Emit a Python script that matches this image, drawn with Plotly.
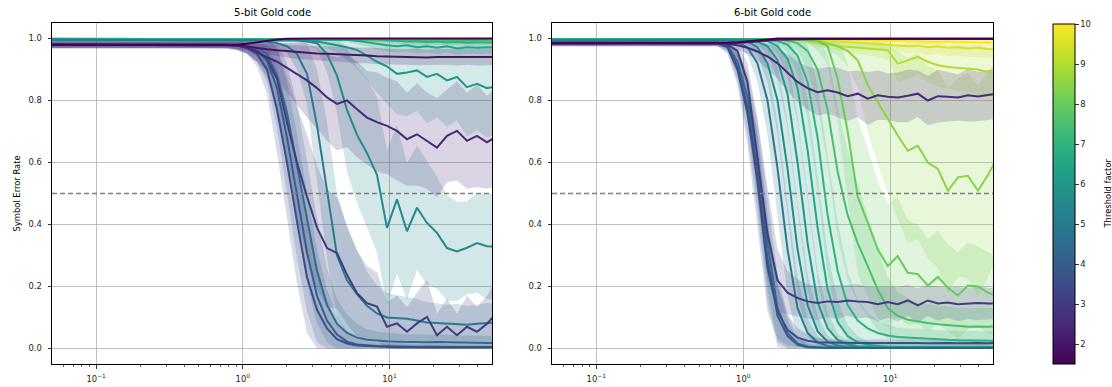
import re
import math
import plotly.graph_objects as go
from plotly.colors import sample_colorscale

# ---------------- data ----------------
# x grid (SNR-like axis, log scale); first point is left of the visible range
X = [0.04, 0.487, 0.570, 0.667, 0.780, 0.913, 1.068, 1.249, 1.462, 1.711, 2.001, 2.341,
     2.739, 3.204, 3.750, 4.386, 5.132, 6.004, 7.025, 8.220, 9.616, 11.25, 13.16, 15.40,
     18.02, 21.08, 24.67, 28.86, 33.77, 39.51, 46.22, 54.08]

THRESHOLDS = [1.5, 2.0, 2.5, 3.0, 3.5, 4.0, 4.5, 5.0, 5.5, 6.0, 6.5, 7.0, 7.5, 8.0, 8.5, 9.0, 9.5, 10.0]

# ---- 5-bit Gold code: mean symbol error rate per threshold ----
left_t1_5 = [0.98, 0.98, 0.98, 0.98, 0.98, 0.98, 0.983, 0.988, 0.993, 0.997, 0.999, 1.0, 1.0, 1.0, 1.0, 1.0, 1.0, 1.0, 1.0, 1.0, 1.0, 1.0, 1.0, 1.0, 1.0, 1.0, 1.0, 1.0, 1.0, 1.0, 1.0, 1.0]
left_t2_0 = [0.98, 0.98, 0.98, 0.98, 0.98, 0.978, 0.974, 0.969, 0.965, 0.962, 0.959, 0.956, 0.954, 0.952, 0.951, 0.95, 0.948, 0.946, 0.945, 0.943, 0.942, 0.941, 0.94, 0.941, 0.939, 0.94, 0.94, 0.939, 0.94, 0.94, 0.939, 0.94]
left_t2_5 = [0.98, 0.98, 0.98, 0.98, 0.98, 0.977, 0.97, 0.955, 0.94, 0.925, 0.905, 0.886, 0.865, 0.84, 0.81, 0.789, 0.80, 0.772, 0.745, 0.73, 0.718, 0.702, 0.675, 0.691, 0.67, 0.648, 0.686, 0.702, 0.67, 0.686, 0.665, 0.685]
left_t3_0 = [0.98, 0.98, 0.98, 0.98, 0.98, 0.978, 0.972, 0.96, 0.935, 0.87, 0.73, 0.6, 0.49, 0.39, 0.324, 0.308, 0.238, 0.178, 0.146, 0.135, 0.07, 0.081, 0.054, 0.081, 0.102, 0.043, 0.07, 0.043, 0.07, 0.054, 0.08, 0.115]
left_t3_5 = [0.98, 0.98, 0.98, 0.98, 0.98, 0.977, 0.97, 0.95, 0.9, 0.77, 0.6, 0.41, 0.23, 0.125, 0.065, 0.03, 0.016, 0.01, 0.008, 0.006, 0.005, 0.004, 0.004, 0.003, 0.004, 0.003, 0.003, 0.003, 0.003, 0.003, 0.003, 0.003]
left_t4_0 = [0.98, 0.98, 0.98, 0.98, 0.98, 0.978, 0.972, 0.96, 0.93, 0.84, 0.68, 0.49, 0.31, 0.17, 0.09, 0.045, 0.022, 0.013, 0.01, 0.008, 0.007, 0.006, 0.006, 0.005, 0.006, 0.005, 0.005, 0.005, 0.005, 0.005, 0.005, 0.005]
left_t4_5 = [0.98, 0.98, 0.98, 0.98, 0.98, 0.979, 0.975, 0.97, 0.95, 0.88, 0.76, 0.59, 0.41, 0.25, 0.14, 0.08, 0.05, 0.035, 0.028, 0.025, 0.023, 0.022, 0.021, 0.021, 0.02, 0.021, 0.02, 0.02, 0.019, 0.019, 0.018, 0.018]
left_t5_0 = [0.996, 0.996, 0.996, 0.996, 0.996, 0.996, 0.996, 0.994, 0.99, 0.985, 0.975, 0.95, 0.886, 0.72, 0.51, 0.3, 0.22, 0.175, 0.138, 0.113, 0.1, 0.097, 0.096, 0.09, 0.084, 0.082, 0.08, 0.079, 0.077, 0.08, 0.082, 0.084]
left_t5_5 = [0.996, 0.996, 0.996, 0.996, 0.996, 0.996, 0.996, 0.996, 0.996, 0.996, 0.996, 0.994, 0.99, 0.985, 0.95, 0.88, 0.77, 0.69, 0.63, 0.56, 0.389, 0.481, 0.378, 0.454, 0.405, 0.373, 0.324, 0.313, 0.325, 0.34, 0.33, 0.328]
left_t6_0 = [0.996, 0.996, 0.996, 0.996, 0.996, 0.996, 0.996, 0.996, 0.996, 0.996, 0.996, 0.996, 0.994, 0.99, 0.985, 0.978, 0.972, 0.963, 0.945, 0.925, 0.91, 0.886, 0.89, 0.897, 0.876, 0.886, 0.865, 0.876, 0.843, 0.854, 0.84, 0.846]
left_t6_5 = [0.997, 0.997, 0.997, 0.997, 0.997, 0.997, 0.997, 0.997, 0.997, 0.997, 0.997, 0.997, 0.997, 0.997, 0.997, 0.997, 0.996, 0.993, 0.988, 0.982, 0.978, 0.975, 0.978, 0.972, 0.975, 0.97, 0.975, 0.968, 0.972, 0.97, 0.972, 0.97]
left_t7_0 = [0.998, 0.998, 0.998, 0.998, 0.998, 0.998, 0.998, 0.998, 0.998, 0.998, 0.998, 0.998, 0.998, 0.998, 0.998, 0.998, 0.998, 0.998, 0.998, 0.998, 0.995, 0.992, 0.99, 0.991, 0.988, 0.99, 0.987, 0.989, 0.986, 0.988, 0.987, 0.986]
left_t7_5 = [0.999, 0.999, 0.999, 0.999, 0.999, 0.999, 0.999, 0.999, 0.999, 0.999, 0.999, 0.999, 0.999, 0.999, 0.999, 0.999, 0.999, 0.999, 0.999, 0.999, 0.999, 0.997, 0.996, 0.997, 0.995, 0.996, 0.995, 0.996, 0.995, 0.995, 0.996, 0.995]
left_t8_0 = [0.998, 0.998, 0.998, 0.998, 0.998, 0.998, 0.998, 0.998, 0.998, 0.998, 0.998, 0.997, 0.997, 0.996, 0.996, 0.995, 0.995, 0.994, 0.994, 0.993, 0.993, 0.992, 0.993, 0.992, 0.991, 0.992, 0.991, 0.992, 0.991, 0.99, 0.991, 0.99]
left_t8_5 = [0.998, 0.998, 0.998, 0.998, 0.998, 0.998, 0.998, 0.998, 0.998, 0.998, 0.998, 0.998, 0.997, 0.997, 0.996, 0.996, 0.996, 0.995, 0.995, 0.995, 0.994, 0.995, 0.994, 0.994, 0.995, 0.994, 0.993, 0.994, 0.994, 0.993, 0.994, 0.993]
left_t9_0 = [0.999, 0.999, 0.999, 0.999, 0.999, 0.999, 0.999, 0.999, 0.999, 0.999, 0.999, 0.999, 0.999, 0.999, 0.999, 0.999, 0.998, 0.998, 0.997, 0.997, 0.997, 0.996, 0.997, 0.996, 0.996, 0.997, 0.996, 0.996, 0.995, 0.996, 0.996, 0.995]
left_t9_5 = [0.999, 0.999, 0.999, 0.999, 0.999, 0.999, 0.999, 0.999, 0.999, 0.999, 0.999, 0.999, 0.999, 0.999, 0.999, 0.999, 0.999, 0.999, 0.999, 0.999, 0.999, 0.998, 0.998, 0.997, 0.998, 0.997, 0.997, 0.998, 0.997, 0.997, 0.997, 0.996]
left_t10_0 = [0.999, 0.999, 0.999, 0.999, 0.999, 0.999, 0.999, 0.999, 0.999, 0.999, 0.999, 0.999, 0.999, 0.999, 0.999, 0.999, 0.999, 0.999, 0.999, 0.999, 0.999, 0.998, 0.997, 0.998, 0.997, 0.997, 0.996, 0.997, 0.996, 0.997, 0.996, 0.996]

# ---- 5-bit Gold code: spread (std) per threshold ----
left_sd1_5 = [0.003, 0.003, 0.003, 0.003, 0.003, 0.003, 0.003, 0.003, 0.003, 0.002, 0.002, 0.002, 0.002, 0.002, 0.002, 0.002, 0.002, 0.002, 0.002, 0.002, 0.002, 0.002, 0.002, 0.002, 0.002, 0.002, 0.002, 0.002, 0.002, 0.002, 0.002, 0.002]
left_sd2_0 = [0.01, 0.01, 0.01, 0.01, 0.01, 0.011, 0.012, 0.014, 0.016, 0.018, 0.02, 0.021, 0.022, 0.023, 0.024, 0.025, 0.025, 0.026, 0.025, 0.026, 0.025, 0.026, 0.025, 0.027, 0.025, 0.026, 0.025, 0.026, 0.025, 0.027, 0.026, 0.025]
left_sd2_5 = [0.012, 0.012, 0.012, 0.012, 0.013, 0.015, 0.02, 0.03, 0.045, 0.06, 0.08, 0.1, 0.12, 0.13, 0.14, 0.15, 0.15, 0.155, 0.15, 0.16, 0.155, 0.16, 0.15, 0.165, 0.155, 0.16, 0.15, 0.16, 0.155, 0.165, 0.15, 0.16]
left_sd3_0 = [0.012, 0.012, 0.012, 0.012, 0.013, 0.015, 0.02, 0.035, 0.06, 0.1, 0.15, 0.18, 0.2, 0.2, 0.19, 0.18, 0.16, 0.14, 0.12, 0.11, 0.08, 0.09, 0.08, 0.1, 0.12, 0.07, 0.09, 0.07, 0.1, 0.08, 0.09, 0.11]
left_sd3_5 = [0.01, 0.01, 0.01, 0.01, 0.011, 0.013, 0.02, 0.04, 0.08, 0.14, 0.18, 0.2, 0.18, 0.14, 0.09, 0.05, 0.03, 0.02, 0.015, 0.012, 0.01, 0.009, 0.008, 0.008, 0.008, 0.007, 0.007, 0.007, 0.007, 0.006, 0.006, 0.006]
left_sd4_0 = [0.01, 0.01, 0.01, 0.01, 0.011, 0.012, 0.02, 0.035, 0.07, 0.13, 0.18, 0.2, 0.19, 0.15, 0.1, 0.06, 0.035, 0.025, 0.02, 0.015, 0.012, 0.011, 0.01, 0.01, 0.01, 0.01, 0.01, 0.01, 0.009, 0.009, 0.009, 0.009]
left_sd4_5 = [0.01, 0.01, 0.01, 0.01, 0.01, 0.011, 0.015, 0.03, 0.06, 0.11, 0.16, 0.2, 0.2, 0.17, 0.12, 0.08, 0.06, 0.045, 0.035, 0.03, 0.028, 0.026, 0.025, 0.025, 0.024, 0.025, 0.024, 0.024, 0.023, 0.023, 0.022, 0.022]
left_sd5_0 = [0.005, 0.005, 0.005, 0.005, 0.005, 0.005, 0.005, 0.006, 0.008, 0.012, 0.02, 0.05, 0.1, 0.18, 0.22, 0.2, 0.17, 0.14, 0.11, 0.09, 0.08, 0.075, 0.07, 0.07, 0.065, 0.065, 0.06, 0.065, 0.06, 0.06, 0.065, 0.06]
left_sd5_5 = [0.005, 0.005, 0.005, 0.005, 0.005, 0.005, 0.005, 0.005, 0.005, 0.005, 0.005, 0.006, 0.01, 0.02, 0.06, 0.12, 0.2, 0.22, 0.24, 0.25, 0.25, 0.24, 0.22, 0.2, 0.2, 0.18, 0.17, 0.16, 0.15, 0.16, 0.17, 0.17]
left_sd6_0 = [0.005, 0.005, 0.005, 0.005, 0.005, 0.005, 0.005, 0.005, 0.005, 0.005, 0.005, 0.005, 0.007, 0.01, 0.015, 0.025, 0.04, 0.06, 0.08, 0.1, 0.12, 0.13, 0.14, 0.13, 0.15, 0.14, 0.15, 0.14, 0.16, 0.15, 0.16, 0.15]
left_sd6_5 = [0.004, 0.004, 0.004, 0.004, 0.004, 0.004, 0.004, 0.004, 0.004, 0.004, 0.004, 0.004, 0.004, 0.004, 0.004, 0.004, 0.006, 0.01, 0.014, 0.018, 0.02, 0.02, 0.02, 0.02, 0.02, 0.02, 0.02, 0.02, 0.02, 0.02, 0.02, 0.02]
left_sd7_0 = [0.003, 0.003, 0.003, 0.003, 0.003, 0.003, 0.003, 0.003, 0.003, 0.003, 0.003, 0.003, 0.003, 0.003, 0.003, 0.003, 0.003, 0.003, 0.003, 0.003, 0.006, 0.008, 0.01, 0.01, 0.01, 0.01, 0.01, 0.01, 0.01, 0.01, 0.01, 0.01]
left_sd_small = [0.003, 0.003, 0.003, 0.003, 0.003, 0.003, 0.003, 0.003, 0.003, 0.003, 0.003, 0.003, 0.003, 0.003, 0.003, 0.003, 0.003, 0.003, 0.003, 0.003, 0.003, 0.003, 0.003, 0.003, 0.003, 0.003, 0.003, 0.003, 0.003, 0.003, 0.003, 0.003]

# ---- 6-bit Gold code: mean symbol error rate per threshold ----
right_t1_5 = [0.985, 0.985, 0.985, 0.985, 0.986, 0.988, 0.991, 0.995, 0.998, 1.0, 1.0, 1.0, 1.0, 1.0, 1.0, 1.0, 1.0, 1.0, 1.0, 1.0, 1.0, 1.0, 1.0, 1.0, 1.0, 1.0, 1.0, 1.0, 1.0, 1.0, 1.0, 1.0]
right_t2_0 = [0.985, 0.985, 0.985, 0.985, 0.985, 0.986, 0.988, 0.991, 0.994, 0.996, 0.997, 0.998, 0.998, 0.998, 0.998, 0.998, 0.998, 0.998, 0.998, 0.998, 0.998, 0.998, 0.998, 0.998, 0.998, 0.998, 0.998, 0.998, 0.998, 0.998, 0.998, 0.998]
right_t2_5 = [0.985, 0.985, 0.985, 0.985, 0.983, 0.978, 0.97, 0.958, 0.942, 0.92, 0.89, 0.86, 0.84, 0.827, 0.833, 0.826, 0.814, 0.822, 0.806, 0.817, 0.812, 0.81, 0.815, 0.822, 0.80, 0.814, 0.812, 0.81, 0.817, 0.813, 0.818, 0.822]
right_t3_0 = [0.985, 0.985, 0.985, 0.985, 0.98, 0.96, 0.86, 0.62, 0.37, 0.22, 0.18, 0.163, 0.152, 0.147, 0.152, 0.15, 0.155, 0.152, 0.15, 0.143, 0.15, 0.143, 0.155, 0.139, 0.155, 0.145, 0.148, 0.143, 0.145, 0.147, 0.145, 0.146]
right_t3_5 = [0.985, 0.985, 0.985, 0.985, 0.972, 0.9, 0.76, 0.54, 0.26, 0.12, 0.06, 0.035, 0.025, 0.02, 0.019, 0.018, 0.019, 0.018, 0.018, 0.019, 0.018, 0.018, 0.019, 0.018, 0.017, 0.018, 0.018, 0.017, 0.018, 0.018, 0.017, 0.018]
right_t4_0 = [0.986, 0.986, 0.986, 0.986, 0.975, 0.91, 0.78, 0.57, 0.29, 0.105, 0.04, 0.012, 0.004, 0.002, 0.002, 0.002, 0.002, 0.002, 0.002, 0.002, 0.002, 0.002, 0.002, 0.002, 0.002, 0.002, 0.002, 0.002, 0.002, 0.002, 0.002, 0.002]
right_t4_5 = [0.988, 0.988, 0.988, 0.988, 0.978, 0.925, 0.81, 0.61, 0.34, 0.13, 0.05, 0.016, 0.006, 0.003, 0.002, 0.002, 0.002, 0.002, 0.002, 0.002, 0.002, 0.002, 0.002, 0.002, 0.002, 0.002, 0.002, 0.002, 0.002, 0.002, 0.002, 0.002]
right_t5_0 = [0.993, 0.993, 0.993, 0.993, 0.993, 0.988, 0.972, 0.92, 0.8, 0.58, 0.32, 0.13, 0.05, 0.02, 0.008, 0.004, 0.002, 0.002, 0.002, 0.002, 0.002, 0.002, 0.002, 0.002, 0.002, 0.002, 0.002, 0.002, 0.002, 0.002, 0.002, 0.002]
right_t5_5 = [0.995, 0.995, 0.995, 0.995, 0.995, 0.995, 0.99, 0.972, 0.92, 0.8, 0.58, 0.32, 0.14, 0.055, 0.022, 0.01, 0.005, 0.003, 0.003, 0.002, 0.002, 0.002, 0.002, 0.002, 0.002, 0.002, 0.002, 0.002, 0.002, 0.002, 0.002, 0.002]
right_t6_0 = [0.996, 0.996, 0.996, 0.996, 0.996, 0.996, 0.996, 0.99, 0.975, 0.93, 0.82, 0.6, 0.34, 0.15, 0.065, 0.028, 0.013, 0.007, 0.004, 0.003, 0.003, 0.003, 0.003, 0.003, 0.003, 0.003, 0.003, 0.003, 0.003, 0.003, 0.003, 0.003]
right_t6_5 = [0.997, 0.997, 0.997, 0.997, 0.997, 0.997, 0.997, 0.997, 0.992, 0.975, 0.935, 0.84, 0.64, 0.39, 0.19, 0.085, 0.04, 0.02, 0.012, 0.008, 0.006, 0.005, 0.005, 0.005, 0.005, 0.005, 0.005, 0.005, 0.005, 0.005, 0.005, 0.005]
right_t7_0 = [0.997, 0.997, 0.997, 0.997, 0.997, 0.997, 0.997, 0.997, 0.997, 0.992, 0.98, 0.945, 0.86, 0.68, 0.43, 0.25, 0.14, 0.09, 0.065, 0.05, 0.042, 0.037, 0.035, 0.033, 0.03, 0.029, 0.028, 0.027, 0.026, 0.026, 0.025, 0.025]
right_t7_5 = [0.998, 0.998, 0.998, 0.998, 0.998, 0.998, 0.998, 0.998, 0.998, 0.998, 0.993, 0.985, 0.96, 0.9, 0.77, 0.57, 0.43, 0.34, 0.266, 0.19, 0.13, 0.105, 0.093, 0.087, 0.082, 0.078, 0.075, 0.072, 0.07, 0.071, 0.07, 0.072]
right_t8_0 = [0.998, 0.998, 0.998, 0.998, 0.998, 0.998, 0.998, 0.998, 0.998, 0.998, 0.998, 0.997, 0.995, 0.992, 0.975, 0.87, 0.7, 0.49, 0.406, 0.32, 0.266, 0.298, 0.244, 0.24, 0.203, 0.231, 0.196, 0.171, 0.203, 0.2, 0.18, 0.168]
right_t8_5 = [0.998, 0.998, 0.998, 0.998, 0.998, 0.998, 0.998, 0.998, 0.998, 0.998, 0.998, 0.997, 0.995, 0.993, 0.985, 0.975, 0.96, 0.93, 0.85, 0.795, 0.74, 0.687, 0.638, 0.654, 0.60, 0.579, 0.509, 0.552, 0.557, 0.509, 0.56, 0.62]
right_t9_0 = [0.998, 0.998, 0.998, 0.998, 0.998, 0.998, 0.998, 0.998, 0.998, 0.998, 0.998, 0.995, 0.99, 0.985, 0.98, 0.976, 0.973, 0.97, 0.967, 0.965, 0.962, 0.919, 0.93, 0.941, 0.925, 0.914, 0.908, 0.905, 0.903, 0.9, 0.892, 0.9]
right_t9_5 = [0.998, 0.998, 0.998, 0.998, 0.998, 0.998, 0.998, 0.998, 0.998, 0.998, 0.998, 0.997, 0.996, 0.995, 0.993, 0.99, 0.988, 0.986, 0.984, 0.982, 0.98, 0.978, 0.975, 0.977, 0.972, 0.974, 0.97, 0.972, 0.968, 0.97, 0.966, 0.965]
right_t10_0 = [0.999, 0.999, 0.999, 0.999, 0.999, 0.999, 0.999, 0.999, 0.999, 0.999, 0.999, 0.999, 0.999, 0.999, 0.999, 0.999, 0.998, 0.997, 0.996, 0.995, 0.994, 0.992, 0.993, 0.99, 0.991, 0.989, 0.99, 0.988, 0.989, 0.987, 0.988, 0.986]

# ---- 6-bit Gold code: spread (std) per threshold ----
right_sd1_5 = [0.003, 0.003, 0.003, 0.003, 0.003, 0.003, 0.003, 0.003, 0.002, 0.002, 0.002, 0.002, 0.002, 0.002, 0.002, 0.002, 0.002, 0.002, 0.002, 0.002, 0.002, 0.002, 0.002, 0.002, 0.002, 0.002, 0.002, 0.002, 0.002, 0.002, 0.002, 0.002]
right_sd2_0 = [0.003, 0.003, 0.003, 0.003, 0.003, 0.003, 0.003, 0.003, 0.003, 0.003, 0.003, 0.003, 0.003, 0.003, 0.003, 0.003, 0.003, 0.003, 0.003, 0.003, 0.003, 0.003, 0.003, 0.003, 0.003, 0.003, 0.003, 0.003, 0.003, 0.003, 0.003, 0.003]
right_sd2_5 = [0.01, 0.01, 0.01, 0.01, 0.012, 0.015, 0.02, 0.03, 0.04, 0.05, 0.06, 0.065, 0.07, 0.075, 0.075, 0.08, 0.08, 0.075, 0.085, 0.08, 0.075, 0.08, 0.085, 0.075, 0.08, 0.085, 0.08, 0.075, 0.085, 0.08, 0.08, 0.08]
right_sd3_0 = [0.01, 0.01, 0.01, 0.01, 0.012, 0.025, 0.06, 0.12, 0.15, 0.1, 0.07, 0.06, 0.055, 0.055, 0.05, 0.055, 0.05, 0.055, 0.05, 0.055, 0.05, 0.055, 0.05, 0.055, 0.05, 0.055, 0.05, 0.055, 0.05, 0.055, 0.05, 0.05]
right_sd3_5 = [0.01, 0.01, 0.01, 0.01, 0.02, 0.05, 0.1, 0.14, 0.14, 0.09, 0.05, 0.03, 0.02, 0.015, 0.012, 0.01, 0.01, 0.01, 0.01, 0.01, 0.01, 0.01, 0.01, 0.01, 0.01, 0.01, 0.01, 0.01, 0.01, 0.01, 0.01, 0.01]
right_sd4_0 = [0.01, 0.01, 0.01, 0.01, 0.018, 0.045, 0.09, 0.13, 0.14, 0.1, 0.05, 0.02, 0.01, 0.005, 0.004, 0.004, 0.004, 0.004, 0.004, 0.004, 0.004, 0.004, 0.004, 0.004, 0.004, 0.004, 0.004, 0.004, 0.004, 0.004, 0.004, 0.004]
right_sd4_5 = [0.01, 0.01, 0.01, 0.01, 0.015, 0.04, 0.08, 0.13, 0.15, 0.11, 0.06, 0.025, 0.012, 0.006, 0.004, 0.004, 0.004, 0.004, 0.004, 0.004, 0.004, 0.004, 0.004, 0.004, 0.004, 0.004, 0.004, 0.004, 0.004, 0.004, 0.004, 0.004]
right_sd5_0 = [0.005, 0.005, 0.005, 0.005, 0.005, 0.01, 0.025, 0.06, 0.11, 0.15, 0.15, 0.1, 0.05, 0.02, 0.01, 0.005, 0.005, 0.005, 0.005, 0.005, 0.005, 0.005, 0.005, 0.005, 0.005, 0.005, 0.005, 0.005, 0.005, 0.005, 0.005, 0.005]
right_sd5_5 = [0.005, 0.005, 0.005, 0.005, 0.005, 0.005, 0.01, 0.025, 0.06, 0.11, 0.15, 0.15, 0.1, 0.05, 0.02, 0.01, 0.005, 0.005, 0.005, 0.005, 0.005, 0.005, 0.005, 0.005, 0.005, 0.005, 0.005, 0.005, 0.005, 0.005, 0.005, 0.005]
right_sd6_0 = [0.005, 0.005, 0.005, 0.005, 0.005, 0.005, 0.005, 0.01, 0.025, 0.06, 0.11, 0.15, 0.15, 0.1, 0.05, 0.02, 0.01, 0.006, 0.006, 0.006, 0.006, 0.006, 0.006, 0.006, 0.006, 0.006, 0.006, 0.006, 0.006, 0.006, 0.006, 0.006]
right_sd6_5 = [0.004, 0.004, 0.004, 0.004, 0.004, 0.004, 0.004, 0.004, 0.01, 0.025, 0.06, 0.11, 0.16, 0.17, 0.12, 0.07, 0.035, 0.02, 0.012, 0.01, 0.01, 0.01, 0.01, 0.01, 0.01, 0.01, 0.01, 0.01, 0.01, 0.01, 0.01, 0.01]
right_sd7_0 = [0.004, 0.004, 0.004, 0.004, 0.004, 0.004, 0.004, 0.004, 0.004, 0.01, 0.025, 0.06, 0.12, 0.17, 0.19, 0.16, 0.11, 0.07, 0.05, 0.04, 0.035, 0.03, 0.03, 0.03, 0.03, 0.03, 0.03, 0.03, 0.03, 0.03, 0.03, 0.03]
right_sd7_5 = [0.003, 0.003, 0.003, 0.003, 0.003, 0.003, 0.003, 0.003, 0.003, 0.003, 0.01, 0.025, 0.06, 0.12, 0.18, 0.21, 0.21, 0.19, 0.16, 0.13, 0.1, 0.08, 0.07, 0.06, 0.06, 0.06, 0.06, 0.06, 0.06, 0.06, 0.06, 0.06]
right_sd8_0 = [0.003, 0.003, 0.003, 0.003, 0.003, 0.003, 0.003, 0.003, 0.003, 0.003, 0.003, 0.003, 0.01, 0.03, 0.06, 0.14, 0.22, 0.25, 0.24, 0.22, 0.2, 0.19, 0.17, 0.16, 0.15, 0.15, 0.14, 0.14, 0.14, 0.13, 0.13, 0.13]
right_sd8_5 = [0.003, 0.003, 0.003, 0.003, 0.003, 0.003, 0.003, 0.003, 0.003, 0.003, 0.003, 0.003, 0.005, 0.01, 0.02, 0.03, 0.05, 0.09, 0.15, 0.2, 0.24, 0.27, 0.3, 0.3, 0.31, 0.32, 0.33, 0.32, 0.33, 0.34, 0.33, 0.32]
right_sd9_0 = [0.003, 0.003, 0.003, 0.003, 0.003, 0.003, 0.003, 0.003, 0.003, 0.003, 0.003, 0.005, 0.008, 0.01, 0.012, 0.015, 0.018, 0.02, 0.022, 0.025, 0.03, 0.06, 0.06, 0.055, 0.065, 0.07, 0.07, 0.075, 0.075, 0.08, 0.08, 0.08]
right_sd9_5 = [0.003, 0.003, 0.003, 0.003, 0.003, 0.003, 0.003, 0.003, 0.003, 0.003, 0.003, 0.003, 0.004, 0.005, 0.006, 0.008, 0.01, 0.012, 0.014, 0.016, 0.018, 0.02, 0.022, 0.022, 0.025, 0.025, 0.027, 0.027, 0.028, 0.03, 0.03, 0.03]
right_sd10_0 = [0.002, 0.002, 0.002, 0.002, 0.002, 0.002, 0.002, 0.002, 0.002, 0.002, 0.002, 0.002, 0.002, 0.002, 0.002, 0.002, 0.003, 0.004, 0.005, 0.006, 0.007, 0.008, 0.008, 0.009, 0.009, 0.01, 0.01, 0.01, 0.011, 0.011, 0.012, 0.012]

LEFT_MEAN = [left_t1_5, left_t2_0, left_t2_5, left_t3_0, left_t3_5, left_t4_0, left_t4_5, left_t5_0,
             left_t5_5, left_t6_0, left_t6_5, left_t7_0, left_t7_5, left_t8_0, left_t8_5, left_t9_0,
             left_t9_5, left_t10_0]
LEFT_SD = [left_sd1_5, left_sd2_0, left_sd2_5, left_sd3_0, left_sd3_5, left_sd4_0, left_sd4_5, left_sd5_0,
           left_sd5_5, left_sd6_0, left_sd6_5, left_sd7_0, left_sd_small, left_sd_small, left_sd_small,
           left_sd_small, left_sd_small, left_sd_small]
RIGHT_MEAN = [right_t1_5, right_t2_0, right_t2_5, right_t3_0, right_t3_5, right_t4_0, right_t4_5, right_t5_0,
              right_t5_5, right_t6_0, right_t6_5, right_t7_0, right_t7_5, right_t8_0, right_t8_5, right_t9_0,
              right_t9_5, right_t10_0]
RIGHT_SD = [right_sd1_5, right_sd2_0, right_sd2_5, right_sd3_0, right_sd3_5, right_sd4_0, right_sd4_5, right_sd5_0,
            right_sd5_5, right_sd6_0, right_sd6_5, right_sd7_0, right_sd7_5, right_sd8_0, right_sd8_5, right_sd9_0,
            right_sd9_5, right_sd10_0]

TITLES = ["5-bit Gold code", "6-bit Gold code"]
Y_TICKS = [0.0, 0.2, 0.4, 0.6, 0.8, 1.0]
X_TICKS = [0.1, 1, 10]
X_TICK_TEXT = ["10<sup>\u22121</sup>", "10<sup>0</sup>", "10<sup>1</sup>"]
X_MINOR = [0.06, 0.07, 0.08, 0.09, 0.2, 0.3, 0.4, 0.5, 0.6, 0.7, 0.8, 0.9,
           2, 3, 4, 5, 6, 7, 8, 9, 20, 30, 40]
CB_TICKS = [2, 3, 4, 5, 6, 7, 8, 9, 10]
CMIN, CMAX = 1.5, 10.0
HALF = 0.5

# sanity check
bad = []
for name, arrs in (("LEFT_MEAN", LEFT_MEAN), ("LEFT_SD", LEFT_SD), ("RIGHT_MEAN", RIGHT_MEAN), ("RIGHT_SD", RIGHT_SD)):
    for i, a in enumerate(arrs):
        if len(a) != len(X):
            bad.append((name, THRESHOLDS[i], len(a)))
if bad:
    raise ValueError("length mismatch: %s" % bad)

# ---------------- layout geometry (pixels) ----------------
W, H = 1112, 387
FONT = "DejaVu Sans"
TICK_FS = 8.4
TITLE_FS = 10.1
PANELS = [(52, 492), (552, 993)]
TOP, BOT = 23, 364
LINE_W = 2.0


def fx(p):
    return p / W


def fy(p):
    return 1 - p / H


def viridis_rgb(t):
    s = sample_colorscale("Viridis", [(t - CMIN) / (CMAX - CMIN)])[0]
    vals = [float(v) for v in re.findall(r"[\d.]+", s)[:3]]
    return tuple(int(round(v)) for v in vals)


fig = go.Figure()

for pi, (means, sds) in enumerate(((LEFT_MEAN, LEFT_SD), (RIGHT_MEAN, RIGHT_SD))):
    xa = "x" if pi == 0 else "x2"
    ya = "y" if pi == 0 else "y2"
    series = list(zip(THRESHOLDS, means, sds))[::-1]   # highest threshold drawn first
    # bands first
    for t, m, s in series:
        r, g, b = viridis_rgb(t)
        lo = [max(a - d, 0.0) for a, d in zip(m, s)]
        hi = [min(a + d, 1.0) for a, d in zip(m, s)]
        fig.add_trace(go.Scatter(
            x=X + X[::-1], y=hi + lo[::-1], xaxis=xa, yaxis=ya,
            fill="toself", fillcolor="rgba(%d,%d,%d,0.2)" % (r, g, b),
            line=dict(width=0, color="rgba(0,0,0,0)"), mode="lines",
            hoverinfo="skip", showlegend=False))
    # mean lines
    for t, m, s in series:
        r, g, b = viridis_rgb(t)
        fig.add_trace(go.Scatter(
            x=X, y=m, xaxis=xa, yaxis=ya, mode="lines",
            line=dict(color="rgb(%d,%d,%d)" % (r, g, b), width=LINE_W),
            hoverinfo="skip", showlegend=False))

# colorbar via a dummy trace
fig.add_trace(go.Scatter(
    x=[None], y=[None], mode="markers", xaxis="x", yaxis="y", showlegend=False, hoverinfo="skip",
    marker=dict(color=[CMIN], colorscale="Viridis", cmin=CMIN, cmax=CMAX, showscale=True,
                colorbar=dict(x=fx(1053), xanchor="left", y=fy(BOT), yanchor="bottom",
                              len=(BOT - TOP - 1) / H, lenmode="fraction",
                              thickness=22, thicknessmode="pixels",
                              outlinewidth=1, outlinecolor="black",
                              xpad=0, ypad=0,
                              tickmode="array", tickvals=CB_TICKS,
                              ticks="outside", ticklen=3.5, tickwidth=0.8, tickcolor="black",
                              tickfont=dict(family=FONT, size=TICK_FS, color="#222")))))

axis_common = dict(showline=True, linecolor="black", linewidth=1, mirror=True,
                   ticks="outside", ticklen=3.5, tickwidth=0.8, tickcolor="black",
                   showgrid=True, gridcolor="#b0b0b0", gridwidth=0.8, zeroline=False,
                   tickfont=dict(family=FONT, size=TICK_FS, color="#222"))

layout = dict(width=W, height=H, margin=dict(l=0, r=0, t=0, b=0),
              paper_bgcolor="white", plot_bgcolor="white", showlegend=False, hovermode=False)

for pi, (x0, x1) in enumerate(PANELS):
    xk = "xaxis" if pi == 0 else "xaxis2"
    yk = "yaxis" if pi == 0 else "yaxis2"
    layout[xk] = dict(axis_common, type="log", domain=[fx(x0), fx(x1)],
                      range=[math.log10(0.05), math.log10(50)],
                      tickmode="array", tickvals=X_TICKS, ticktext=X_TICK_TEXT,
                      ticklabelstandoff=3,
                      anchor="y" if pi == 0 else "y2",
                      minor=dict(tickmode="array", tickvals=X_MINOR, ticks="outside", ticklen=2,
                                 tickwidth=0.6, tickcolor="black", showgrid=False))
    layout[yk] = dict(axis_common, domain=[fy(BOT), fy(TOP)], range=[-0.05, 1.05],
                      tickmode="array", tickvals=Y_TICKS, ticktext=["%.1f" % v for v in Y_TICKS],
                      ticklabelstandoff=4,
                      anchor="x" if pi == 0 else "x2")

fig.update_layout(**layout)

# dashed 0.5 reference line
for xr, yr in (("x domain", "y"), ("x2 domain", "y2")):
    fig.add_shape(type="line", xref=xr, yref=yr, x0=0, x1=1, y0=HALF, y1=HALF,
                  line=dict(color="#808080", width=1.4, dash="5px,3px"), layer="above")

# titles and labels
for (x0, x1), title in zip(PANELS, TITLES):
    fig.add_annotation(text=title, x=fx((x0 + x1) / 2), y=fy(12), xref="paper", yref="paper",
                       showarrow=False, xanchor="center", yanchor="middle",
                       font=dict(family=FONT, size=TITLE_FS, color="black"))
fig.add_annotation(text="Symbol Error Rate", x=fx(16), y=fy((TOP + BOT) / 2), xref="paper", yref="paper",
                   showarrow=False, textangle=-90, xanchor="center", yanchor="middle",
                   font=dict(family=FONT, size=TICK_FS, color="black"))
fig.add_annotation(text="Threshold factor", x=fx(1107), y=fy((TOP + BOT) / 2), xref="paper", yref="paper",
                   showarrow=False, textangle=-90, xanchor="center", yanchor="middle",
                   font=dict(family=FONT, size=TICK_FS, color="black"))

fig.write_html("out.html", config={"displayModeBar": False, "staticPlot": True},
               post_script="document.body.style.margin='0px';document.body.style.padding='0px';")
